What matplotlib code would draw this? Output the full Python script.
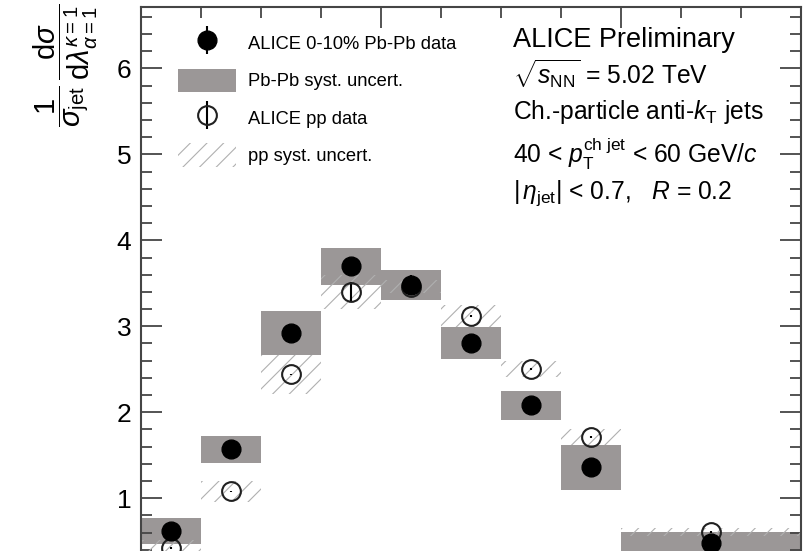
import numpy as np
import matplotlib
matplotlib.use("Agg")
import matplotlib.pyplot as plt
from matplotlib.patches import Patch
from matplotlib.ticker import MultipleLocator
from matplotlib.legend_handler import HandlerErrorbar
from matplotlib.container import ErrorbarContainer

plt.rcParams['font.family'] = ['Liberation Sans', 'DejaVu Sans']
plt.rcParams['mathtext.fontset'] = 'custom'
plt.rcParams['mathtext.rm'] = 'Liberation Sans'
plt.rcParams['mathtext.it'] = 'Liberation Sans:italic'
plt.rcParams['mathtext.bf'] = 'Liberation Sans:bold'
plt.rcParams['mathtext.sf'] = 'Liberation Sans'
plt.rcParams['hatch.linewidth'] = 0.8

# bins in lambda
bin_edges = np.array([0.0, 0.05, 0.10, 0.15, 0.20, 0.25, 0.30, 0.35, 0.40, 0.55])

# Pb-Pb 0-10%
pbpb_val = [0.62, 1.57, 2.92, 3.70, 3.48, 2.81, 2.08, 1.36, 0.48]
pbpb_stat = [0.03, 0.04, 0.06, 0.09, 0.12, 0.06, 0.05, 0.05, 0.03]
pbpb_syst = [0.155, 0.16, 0.255, 0.215, 0.175, 0.185, 0.17, 0.26, 0.125]

# pp
pp_val = [0.42, 1.08, 2.44, 3.40, 3.46, 3.12, 2.50, 1.71, 0.605]
pp_stat = [0.01, 0.01, 0.01, 0.11, 0.06, 0.01, 0.01, 0.01, 0.01]
pp_syst = [0.10, 0.125, 0.23, 0.20, 0.075, 0.13, 0.095, 0.09, 0.045]

gray = '#9b9797'
hatch_gray = '#b0b0b0'
frame = '#454545'

left = bin_edges[:-1]
width = np.diff(bin_edges)
centers = left + width / 2
pbpb_val = np.array(pbpb_val)
pp_val = np.array(pp_val)
pbpb_syst = np.array(pbpb_syst)
pp_syst = np.array(pp_syst)

fig = plt.figure(figsize=(8.09, 5.51), dpi=100)
# axes extends below the figure edge (the reference is cropped)
ax = fig.add_axes([141 / 809, -0.0604, 660 / 809, 1.0477])

ax.bar(left, 2 * pbpb_syst, width=width, bottom=pbpb_val - pbpb_syst,
       align='edge', color=gray, linewidth=0, zorder=1)
ax.bar(left, 2 * pp_syst, width=width, bottom=pp_val - pp_syst,
       align='edge', facecolor='none', edgecolor=hatch_gray, hatch='//',
       linewidth=0, zorder=2)

pp = ax.errorbar(centers, pp_val, yerr=pp_stat, fmt='o', ms=13.5,
                 mfc='none', mec='#202020', mew=1.5, ecolor='black',
                 elinewidth=1.5, capsize=0, zorder=3)
pb = ax.errorbar(centers, pbpb_val, yerr=pbpb_stat, fmt='o', ms=13.5,
                 mfc='black', mec='black', ecolor='black',
                 elinewidth=1.5, capsize=0, zorder=4)

ax.set_xlim(0, 0.55)
ax.set_ylim(0, 6.713)

ax.xaxis.set_major_locator(MultipleLocator(0.2))
ax.xaxis.set_minor_locator(MultipleLocator(0.05))
ax.yaxis.set_major_locator(MultipleLocator(1))
ax.yaxis.set_minor_locator(MultipleLocator(0.2))
ax.tick_params(which='both', direction='in', top=True, right=True,
               color=frame, width=1.3)
ax.tick_params(which='major', length=15)
ax.tick_params(which='minor', length=8)
ax.tick_params(axis='y', labelsize=19, pad=7, labelcolor='black')
ax.tick_params(axis='x', labelbottom=False)
ax.set_yticks([1, 2, 3, 4, 5, 6])
for s in ax.spines.values():
    s.set_color(frame)
    s.set_linewidth(1.5)

ax.set_ylabel(r'$\dfrac{1}{\sigma_{\mathrm{jet}}}\,'
              r'\dfrac{\mathrm{d}\sigma}{\mathrm{d}\lambda^{\kappa=1}_{\alpha=1}}$',
              fontsize=21, loc='top')
ax.yaxis.set_label_coords(-0.062, 1.006)

handles = [pb, Patch(facecolor=gray, linewidth=0), pp,
           Patch(facecolor='none', edgecolor=hatch_gray, hatch='//', linewidth=0)]
labels = ['ALICE 0-10% Pb-Pb data', 'Pb-Pb syst. uncert.',
          'ALICE pp data', 'pp syst. uncert.']
ax.legend(handles, labels, loc='upper left', bbox_to_anchor=(0.056, 0.958),
          frameon=False, fontsize=13.2, handlelength=3.15, handleheight=1.6,
          labelspacing=0.75, handletextpad=0.66, borderpad=0, borderaxespad=0,
          handler_map={ErrorbarContainer: HandlerErrorbar(yerr_size=0.75)})

lines = [('ALICE Preliminary', 46.7, 19.5),
         (r'$\sqrt{s_{\mathrm{NN}}}$ = 5.02 TeV', 83.3, 17.7),
         (r'Ch.-particle anti-$k_{\mathrm{T}}$ jets', 119.3, 17.7),
         (r'40 < $p_{\mathrm{T}}^{\mathrm{ch\ jet}}$ < 60 GeV/$c$', 163.3, 17.7),
         (r'$|\,\eta_{\mathrm{jet}}|$ < 0.7,   $R$ = 0.2', 198.3, 17.7)]
for txt, ypx, fs in lines:
    fig.text(513 / 809, 1 - ypx / 551, txt, fontsize=fs, va='baseline', ha='left')

fig.savefig('out.png', dpi=100)
